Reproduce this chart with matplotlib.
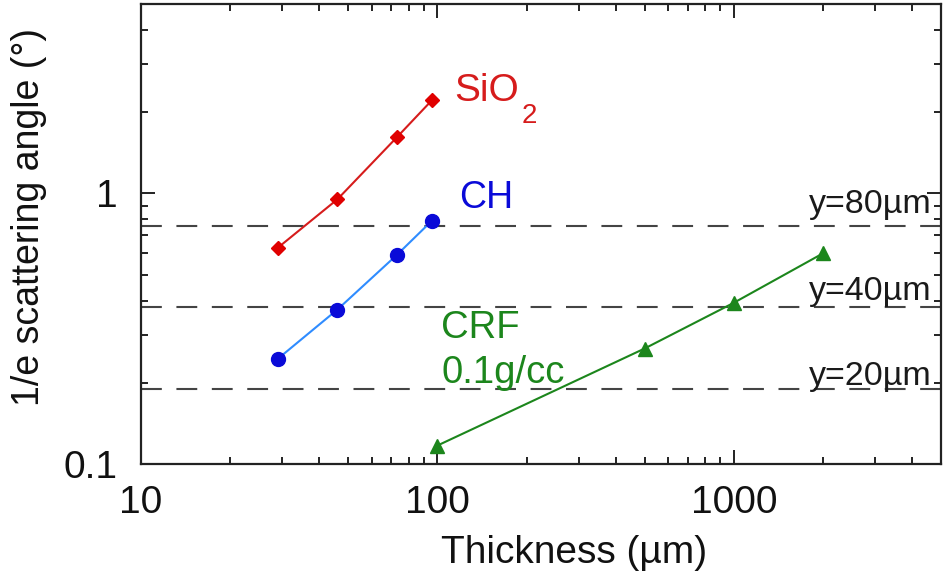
import numpy as np
import matplotlib
matplotlib.use("Agg")
import matplotlib.pyplot as plt
from matplotlib.ticker import LogLocator, NullFormatter, FixedLocator, FixedFormatter

plt.rcParams['font.family'] = ['Liberation Sans', 'DejaVu Sans']

# ---- data ----
sio2_x = [29, 46, 73, 96]
sio2_y = [0.63, 0.95, 1.61, 2.21]

ch_x = [29, 46, 73, 96]
ch_y = [0.245, 0.372, 0.592, 0.793]

crf_x = [100, 500, 1000, 2000]
crf_y = [0.117, 0.267, 0.394, 0.60]

ref_levels = [0.757, 0.380, 0.189]
ref_labels = ["y=80µm", "y=40µm", "y=20µm"]

x_ticks = [10, 100, 1000]
x_ticklabels = ["10", "100", "1000"]
y_ticks = [0.1, 1]
y_ticklabels = ["0.1", "1"]

red = "#d61c1c"
blue_pt = "#0a0ad8"
blue_ln = "#2f8cff"
green = "#1c861c"

fig = plt.figure(figsize=(9.43, 5.79), dpi=100)
ax = fig.add_axes([0.1495, 0.1986, 0.8484, 0.7945])

for lvl in ref_levels:
    ax.axhline(lvl, color="#444444", lw=1.5, dashes=(10, 7), zorder=1)

ax.plot(sio2_x, sio2_y, color=red, lw=1.5, marker="D", ms=7.5,
        mfc="#e00000", mec="#e00000", zorder=3)
ax.plot(ch_x, ch_y, color=blue_ln, lw=1.5, marker="o", ms=10,
        mfc=blue_pt, mec=blue_pt, zorder=3)
ax.plot(crf_x, crf_y, color=green, lw=1.5, marker="^", ms=10,
        mfc=green, mec=green, zorder=3)

ax.set_xscale("log")
ax.set_yscale("log")
ax.set_xlim(10, 5000)
ax.set_ylim(0.1, 5)

# series labels
ax.text(114, 2.2, "SiO", color=red, fontsize=28, ha="left", va="baseline")
ax.text(192, 1.82, "2", color=red, fontsize=20, ha="left", va="baseline")
ax.text(118, 0.88, "CH", color=blue_pt, fontsize=27, ha="left", va="baseline")
ax.text(103, 0.292, "CRF", color=green, fontsize=27.5, ha="left", va="baseline")
ax.text(103, 0.199, "0.1g/cc", color=green, fontsize=27.5, ha="left", va="baseline")

label_y = [0.845, 0.404, 0.196]
for yy, lab in zip(label_y, ref_labels):
    ax.text(4650, yy, lab, color="#1a1a1a", fontsize=24.5, ha="right", va="baseline")

# ticks
ax.xaxis.set_major_locator(FixedLocator(x_ticks))
ax.xaxis.set_major_formatter(FixedFormatter(x_ticklabels))
ax.xaxis.set_minor_locator(LogLocator(base=10, subs=np.arange(2, 10)))
ax.xaxis.set_minor_formatter(NullFormatter())
ax.yaxis.set_major_locator(FixedLocator(y_ticks))
ax.yaxis.set_major_formatter(FixedFormatter(y_ticklabels))
ax.yaxis.set_minor_locator(LogLocator(base=10, subs=np.arange(2, 10)))
ax.yaxis.set_minor_formatter(NullFormatter())

ax.tick_params(which="both", direction="in", top=True, right=True,
               width=1.4, colors="#222222", labelcolor="#111111")
ax.tick_params(which="major", length=10)
ax.tick_params(which="minor", length=5)
ax.tick_params(axis="x", which="major", labelsize=28, pad=15)
ax.tick_params(axis="y", which="major", labelsize=28, pad=17)

for sp in ax.spines.values():
    sp.set_linewidth(1.6)
    sp.set_color("#222222")

ax.set_xlabel("Thickness (µm)", fontsize=28, color="#111111")
ax.xaxis.set_label_coords(0.541, -0.155)
ax.set_ylabel("1/e scattering angle (°)", fontsize=27, color="#111111")
ax.yaxis.set_label_coords(-0.118, 0.537)

fig.savefig("out.png", dpi=100)
